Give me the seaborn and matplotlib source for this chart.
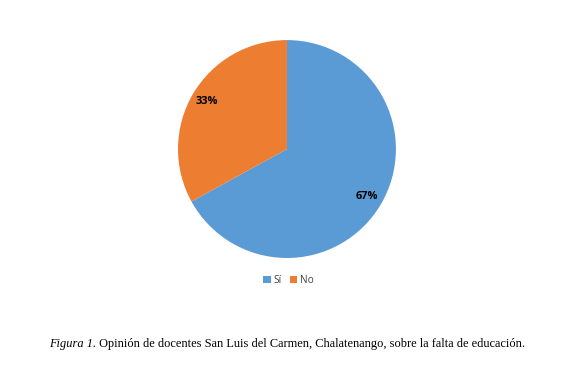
import matplotlib.pyplot as plt
import seaborn as sns

categorias = ["Sí", "No"]
porcentajes = [67, 33]
colores = ["#5b9bd5", "#ed7d31"]

sns.set_theme(style="white")
plt.rcParams["font.family"] = ["Open Sans", "DejaVu Sans"]

fig = plt.figure(figsize=(5.66, 3.70), dpi=100)
ax = fig.add_axes([0.3145, 0.3027, 0.385, 0.589])

wedges, textos, pcts = ax.pie(porcentajes, colors=colores, startangle=90,
                              counterclock=False, autopct="%1.0f%%",
                              pctdistance=0.85, wedgeprops=dict(linewidth=0),
                              textprops=dict(fontsize=7.9, fontweight="bold", color="black"))
ax.set_xlim(-1, 1)
ax.set_ylim(-1, 1)
ax.set_aspect("equal")

fig.legend(wedges, categorias, loc="center", bbox_to_anchor=(0.51, 0.241),
           ncol=2, frameon=False, fontsize=7.3, handlelength=0.7, handleheight=0.7,
           handletextpad=0.3, columnspacing=0.8, labelcolor="#404040")

# Pie de figura
t1 = fig.text(49 / 566, (370 - 347) / 370, "Figura 1.", fontsize=8.95,
              family="Liberation Serif", style="italic", color="black")
ax.annotate(" Opinión de docentes San Luis del Carmen, Chalatenango, sobre la falta de educación.",
            xy=(1, 0), xycoords=t1, va="bottom", ha="left", fontsize=8.95,
            family="Liberation Serif", color="black", annotation_clip=False)

fig.savefig("out.png", dpi=100)
